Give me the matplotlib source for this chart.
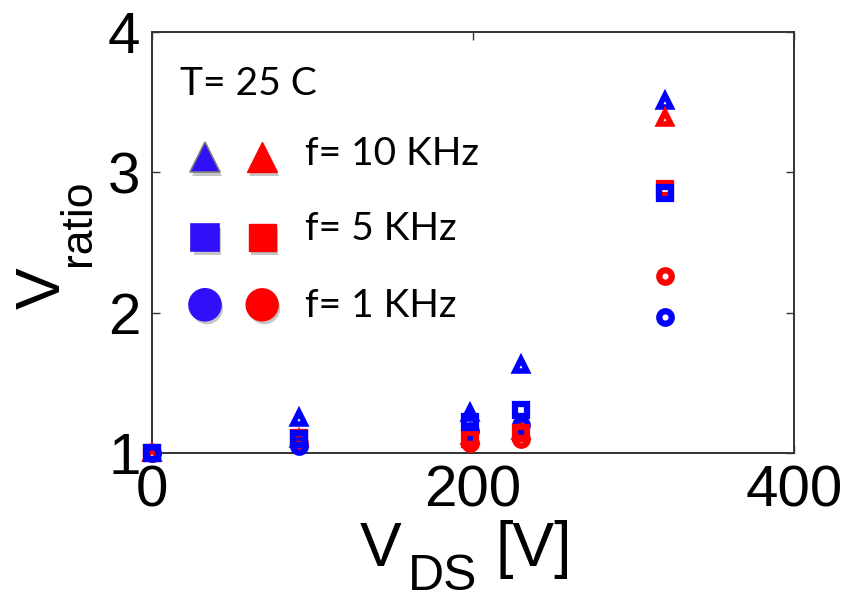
import matplotlib
matplotlib.use("Agg")
import matplotlib.pyplot as plt
import matplotlib.patheffects as pe

# data (V_DS in volts, V_ratio)
VDS = [0, 92, 198, 230, 320]
BLUE_10K = [1.0, 1.25, 1.285, 1.625, 3.51]
BLUE_5K = [1.0, 1.10, 1.22, 1.31, 2.85]
BLUE_1K = [1.0, 1.05, 1.16, 1.20, 1.97]
RED_10K = [1.0, 1.10, 1.12, 1.16, 3.39]
RED_5K = [1.0, 1.11, 1.10, 1.14, 2.88]
RED_1K = [1.0, 1.07, 1.07, 1.10, 2.26]

XTICKS = [0, 200, 400]
YTICKS = [1, 2, 3, 4]

BLUE = "#0000ff"
RED = "#ff0000"
LEG_BLUE = "#3010f8"
W, H = 845, 605

plt.rcParams["font.family"] = ["Liberation Sans", "DejaVu Sans"]

fig = plt.figure(figsize=(W / 100, H / 100), dpi=100)
ax = fig.add_axes([0.1795, 0.2512, 0.760, 0.696])

# draw order chosen so overlaps look like the reference
series = [
    (BLUE_10K, BLUE, "^", 9, 4.0),
    (RED_10K, RED, "^", 9, 4.0),
    (RED_1K, RED, "o", 9, 4.5),
    (BLUE_1K, BLUE, "o", 9, 4.5),
    (RED_5K, RED, "s", 9, 4.5),
    (BLUE_5K, BLUE, "s", 9, 4.5),
]
for i, (ys, col, mk, ms, mew) in enumerate(series):
    ax.plot(VDS, ys, ls="none", marker=mk, ms=ms, mew=mew, mec=col, mfc="none",
            clip_on=False, zorder=3 + i)

ax.set_xlim(0, 400)
ax.set_ylim(1, 4)
ax.set_xticks(XTICKS)
ax.set_yticks(YTICKS)
ax.tick_params(direction="in", length=6, width=1, labelsize=42, pad=8,
               top=True, right=True, colors="#333333", labelcolor="black")
for s in ax.spines.values():
    s.set_linewidth(1.4)
    s.set_color("#333333")


def px(x, y):
    return x / W, 1 - y / H


# axis labels with a deep-set subscript, built from pieces
kw = dict(rotation=90, rotation_mode="anchor", ha="left", va="baseline")
fig.text(*px(60, 309), "V", fontsize=45, **kw)
fig.text(*px(90, 266), "ratio", fontsize=32, **kw)
kw = dict(ha="left", va="baseline")
fig.text(*px(360, 566), "V", fontsize=45, **kw)
fig.text(*px(408, 590), "DS", fontsize=36, **kw)
fig.text(*px(496, 566), "[V]", fontsize=45, **kw)

# hand-drawn legend inside the axes
legfont = ["Lato", "DejaVu Sans"]
ax.text(0.044, 0.850, "T= 25 C", transform=ax.transAxes, fontsize=28,
        family=legfont, va="baseline")
rows = [("f= 10 KHz", "^", 22, 0.684, 0.703),
        ("f= 5 KHz", "s", 19.5, 0.506, 0.511),
        ("f= 1 KHz", "o", 23, 0.323, 0.352)]
shadow = [pe.SimplePatchShadow(offset=(1.5, -2.5), shadow_rgbFace="gray", alpha=0.45), pe.Normal()]
for label, mk, ms, ty, my in rows:
    ax.text(0.239, ty, label, transform=ax.transAxes, fontsize=28,
            family=legfont, va="baseline")
    ax.plot([0.083], [my], transform=ax.transAxes, marker=mk, ms=ms, ls="none",
            mfc=LEG_BLUE, mec="#7a7a7a" if mk == "^" else LEG_BLUE, mew=1.2,
            path_effects=shadow, clip_on=False, zorder=10)
    ax.plot([0.172], [my], transform=ax.transAxes, marker=mk, ms=ms, ls="none",
            mfc=RED, mec=RED, mew=1.0, path_effects=shadow, clip_on=False, zorder=10)

fig.savefig("out.png", dpi=100)
